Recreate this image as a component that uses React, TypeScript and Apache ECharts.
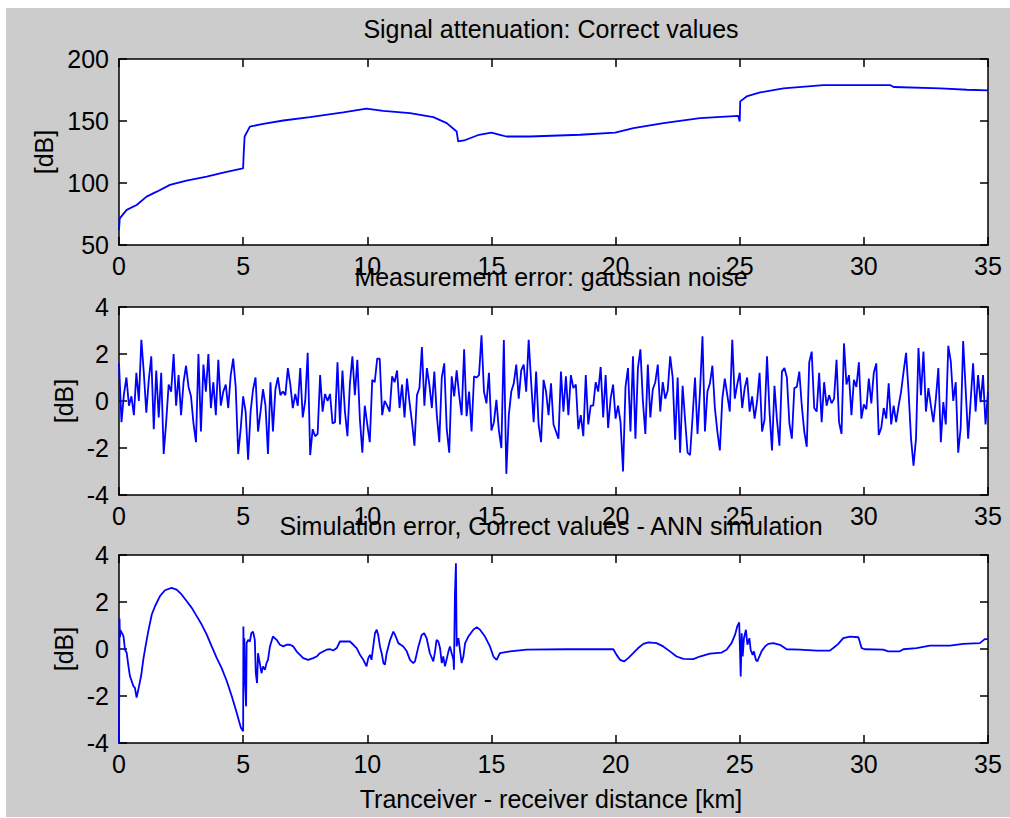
import React, { useEffect, useRef } from "react";
import * as echarts from "echarts";

// ---------- data ----------
const TITLES = [
  "Signal attenuation: Correct values",
  "Measurement error: gaussian noise",
  "Simulation error, Correct values - ANN simulation",
];
const Y_NAME = "[dB]";
const X_NAME = "Tranceiver - receiver distance [km]";

// Plot 1: signal attenuation (km, dB)
const attenKm = [
  0, 0.03, 0.31, 0.71, 1.11, 1.52, 2.05, 2.72, 3.53, 4.2, 4.94, 5.0, 5.02, 5.06, 5.27, 5.81, 6.62, 7.69,
  9.03, 9.97, 10.64, 11.72, 12.66, 13.2, 13.6, 13.66, 13.9, 14.5, 15.0, 15.34, 15.6, 16.56, 18.57, 19.98,
  20.72, 21.93, 23.4, 24.94, 25.0, 25.02, 25.28, 25.82, 26.76, 28.37, 31.05, 31.2, 33.08, 34.15, 35.0,
];
const attenDb = [
  62, 71.5, 78.3, 82.3, 89, 93, 98.5, 102, 105.2, 108.4, 111.5, 112, 122.7, 137.5, 145.5, 147.7, 150.4, 153.1,
  156.9, 160, 158.2, 156.4, 153.1, 148.3, 141.5, 133.5, 134.3, 138.9, 140.7, 138.9, 137.5, 137.5, 138.9, 140.7,
  144.3, 148.3, 152.3, 154.2, 149.6, 165.8, 169.8, 173, 176.3, 179, 179, 177.4, 176.3, 175.2, 174.7,
];

// Plot 2: measurement noise, one value every NOISE_STEP km from 0 to 35
const NOISE_STEP = 0.1;
const noiseDb = [
  1.6, -0.9, 0.3, 1.0, -0.2, 0.2, -0.6, 1.2, 0.0, 2.6,
  1.2, -0.5, 0.9, 1.9, -1.2, 1.3, -0.7, 1.2, -2.25, -0.9,
  0.7, 0.4, 2.0, -0.2, 1.1, -0.6, 0.8, 1.5, 0.6, 0.2,
  -0.95, -1.75, 2.0, -1.3, 1.55, 0.4, 2.0, -0.3, 0.8, -0.6,
  1.75, -0.2, 0.4, 0.7, -0.3, 1.1, 1.8, 0.6, -2.25, -1.2,
  0.2, -0.45, -2.5, -0.45, 0.5, 1.0, -1.3, -0.45, 0.5, -0.2,
  -2.25, 0.8, -1.3, 0.5, 1.0, 0.25, 0.4, 0.25, 1.4, 0.7,
  -0.3, 0.3, -0.2, 1.4, -0.7, 0.0, 2.05, -2.3, -1.2, -1.5,
  -1.4, 1.1, -0.45, 0.3, 0.0, 0.3, -0.95, -0.9, 1.65, -1.0,
  1.3, -0.45, -1.5, 0.75, 1.9, 0.25, 1.75, -0.75, -2.2, -0.2,
  -1.0, -1.75, 0.9, 0.8, 1.8, 1.8, -0.6, 0.0, -0.2, -0.45,
  1.05, 0.8, 1.3, -0.3, 0.7, -0.7, 0.95, -0.05, -0.9, -1.9,
  0.25, 0.55, 2.3, -0.2, 1.4, 0.7, -0.3, 1.25, -0.6, -1.75,
  1.0, 1.6, -1.2, -2.2, 1.05, 0.2, 1.3, 0.25, -0.6, 2.2,
  -0.65, 0.4, -1.3, 1.05, 1.0, 1.1, 2.8, 0.4, -0.1, 1.2,
  -1.25, -0.9, 0.05, -1.25, -2.0, 2.6, -3.1, -0.6, 0.4, 0.75,
  1.55, 0.1, 1.3, 1.55, 0.4, 2.6, 0.8, -0.9, 1.25, -1.0,
  -1.75, 0.9, 0.4, -0.6, 0.75, -1.0, -1.3, -1.6, 1.25, -0.45,
  1.05, -0.6, 1.1, 0.55, 0.7, -1.2, -0.6, -1.5, 1.1, -1.0,
  -0.2, -0.2, 0.8, 0.4, 1.45, -0.7, 1.1, -1.15, 0.1, 0.7,
  -0.75, -0.2, -0.9, -3.0, 0.6, 1.4, -1.3, 1.9, -1.6, 1.4,
  2.2, 0.0, -1.4, 1.55, -0.7, 0.5, 0.8, 1.55, -0.45, 0.8,
  0.1, 0.45, 1.9, 1.0, -1.65, 1.0, -2.2, 0.65, -0.8, -2.2,
  -2.3, -0.7, 1.0, -1.4, 0.4, 2.75, -1.3, 0.4, 0.75, 1.5,
  -0.3, -1.3, -2.1, 0.1, 0.95, 0.25, -0.45, 2.6, 0.1, 0.7,
  1.2, -0.3, 0.55, 1.0, -0.45, 0.2, -0.75, 0.0, 1.2, -1.3,
  -0.8, 1.9, -0.45, -2.1, 0.65, -0.8, -1.9, 1.25, 1.4, 1.0,
  -0.95, -1.6, 0.55, 0.6, 1.25, -0.2, -1.3, -1.95, 1.65, 2.1,
  -0.3, -0.45, 1.2, -0.9, 0.8, -0.2, 0.25, -0.1, 0.1, 1.75,
  -0.9, -1.4, 2.45, 0.7, 1.1, -0.6, 0.9, 0.6, 1.65, -0.75,
  -0.15, -0.35, 0.95, -0.1, 1.2, 1.6, -1.45, -1.15, -0.3, -0.75,
  0.75, -1.0, -0.2, -0.9, -0.2, 0.4, 1.25, 2.05, 0.4, -1.6,
  -2.75, -1.6, 2.25, 0.25, 2.1, -0.45, 0.55, -0.2, -0.9, 0.1,
  1.4, -1.75, -0.05, -1.0, 2.35, 1.7, 0.0, 0.8, -2.2, -1.15,
  2.55, 0.5, -1.6, 0.0, 1.6, -0.45, 1.1, -0.05, 1.1, -1.0, 0.4,
];

// Plot 3: simulation error (km, dB)
const simKm = [
  0, 0.02, 0.04, 0.06, 0.11, 0.18, 0.24, 0.31, 0.38, 0.44, 0.58, 0.64, 0.71, 0.78, 0.89, 0.98, 1.07, 1.18,
  1.32, 1.45, 1.65, 1.85, 2.12, 2.32, 2.52, 2.73, 2.93, 3.13, 3.33, 3.53, 3.73, 3.93, 4.13, 4.34, 4.54, 4.74,
  4.91, 5.0, 5.01, 5.03, 5.05, 5.07, 5.12, 5.14, 5.2, 5.27, 5.33, 5.4, 5.47, 5.51, 5.56, 5.6, 5.67, 5.74,
  5.8, 5.88, 5.94, 6.0, 6.08, 6.2, 6.35, 6.48, 6.62, 6.75, 6.89, 7.02, 7.15, 7.29, 7.42, 7.62, 7.82, 7.96,
  8.09, 8.36, 8.5, 8.63, 8.77, 8.9, 9.3, 9.44, 9.57, 9.71, 9.84, 9.97, 10.04, 10.11, 10.17, 10.24, 10.31,
  10.38, 10.44, 10.51, 10.58, 10.65, 10.71, 10.78, 10.92, 11.05, 11.12, 11.25, 11.45, 11.59, 11.72, 11.85,
  11.92, 12.06, 12.19, 12.29, 12.39, 12.52, 12.66, 12.73, 12.79, 12.86, 12.93, 13.0, 13.06, 13.13, 13.27,
  13.33, 13.4, 13.47, 13.49, 13.53, 13.57, 13.6, 13.67, 13.74, 13.8, 13.87, 13.94, 14.07, 14.27, 14.41,
  14.54, 14.74, 14.94, 15.08, 15.21, 15.34, 15.75, 16.42, 18.03, 19.91, 20.04, 20.18, 20.34, 20.51, 20.71,
  20.91, 21.12, 21.32, 21.65, 21.92, 22.19, 22.46, 22.73, 23.13, 23.39, 23.8, 24.27, 24.47, 24.67, 24.81,
  24.9, 24.98, 25.01, 25.04, 25.08, 25.12, 25.17, 25.25, 25.31, 25.39, 25.44, 25.52, 25.57, 25.65, 25.71,
  25.79, 25.88, 26.02, 26.15, 26.35, 26.62, 26.89, 27.42, 28.1, 28.63, 28.77, 28.97, 29.17, 29.44, 29.78,
  29.91, 30.04, 30.78, 30.98, 31.45, 31.59, 32.12, 32.66, 33.47, 34.0, 34.67, 34.87, 35.0,
];
const simDb = [
  -4, 1.3, 0.5, 0.8, 0.69, 0.55, -0.02, -0.16, -0.73, -1.15, -1.58, -1.65, -2.07, -1.72, -1.15, -0.44, 0.12, 0.76,
  1.47, 1.82, 2.25, 2.5, 2.6, 2.53, 2.32, 2.03, 1.75, 1.4, 1.04, 0.62, 0.12, -0.37, -0.8, -1.36, -2.0, -2.71,
  -3.35, -3.5, 0.96, -0.6, 0.46, -1.31, -2.44, 0.25, 0.39, 0.32, 0.67, 0.74, 0.39, -1.03, -1.45, -0.18, -0.6, -1.03,
  -0.74, -0.88, -0.6, -0.46, 0.11, 0.53, 0.39, 0.18, 0.11, 0.18, 0.18, 0.11, -0.1, -0.25, -0.39, -0.46, -0.39, -0.32,
  -0.18, -0.03, -0.01, -0.06, 0.04, 0.32, 0.32, 0.18, 0.04, -0.25, -0.46, -0.74, -0.39, -0.25, -0.46, 0.11, 0.67,
  0.82, 0.6, 0.11, -0.18, -0.6, -0.67, -0.18, 0.39, 0.74, 0.6, 0.25, 0.11, -0.1, -0.46, -0.6,
  -0.53, 0.11, 0.6, 0.67, 0.46, -0.18, -0.53, -0.1, 0.39, 0.32, 0.04, -0.6, -0.32, -0.74, -0.1,
  0.11, -0.18, -0.46, -0.88, 2.3, 3.65, 0.11, 0.46, -0.1, -0.6, -0.32, 0.25, 0.53, 0.82, 0.93,
  0.82, 0.53, 0.11, -0.32, -0.46, -0.18, -0.1, -0.03, -0.01, -0.01, -0.25, -0.46, -0.53, -0.39, -0.18,
  0.04, 0.22, 0.28, 0.25, 0.11, -0.1, -0.32, -0.42, -0.43, -0.32, -0.2, -0.15, -0.03, 0.25, 0.6,
  0.96, 1.13, -0.03, -1.17, 0.67, -0.32, 0.46, 0.82, 0.18, 0.46, -0.03, -0.25, -0.1, -0.46, -0.53,
  -0.32, -0.1, 0.11, 0.22, 0.25, 0.18, -0.01, -0.03, -0.07, -0.07, 0.04, 0.22, 0.46, 0.53, 0.5,
  0.04, -0.01, -0.03, -0.1, -0.1, -0.01, 0.04, 0.14, 0.14, 0.22, 0.25, 0.42, 0.42,
];

const X_MIN = 0;
const X_MAX = 35;
const X_INTERVAL = 5;
const Y_RANGES = [
  { min: 50, max: 200, interval: 50 },
  { min: -4, max: 4, interval: 2 },
  { min: -4, max: 4, interval: 2 },
];

// ---------- layout / style ----------
const FONT = '"Liberation Sans", Arial, Helvetica, sans-serif';
const FS = 25;
const LINE_BLUE = "#0000ff";
const GRIDS = [
  { left: 113, top: 51, width: 869, height: 186 },
  { left: 113, top: 299, width: 869, height: 188 },
  { left: 113, top: 547, width: 869, height: 188 },
];
const TITLE_Y = [20.5, 269, 518];
const CENTER_X = 545;

export default function App() {
  const ref = useRef<HTMLDivElement>(null);

  useEffect(() => {
    if (!ref.current) return;
    const chart = echarts.init(ref.current, null, { renderer: "svg" });

    const axisLine = { show: true, onZero: false, lineStyle: { color: "#000", width: 1.5 } };
    const axisTick = { show: true, inside: true, length: 8, lineStyle: { color: "#000", width: 1.5 } };
    const label = { color: "#000", fontSize: FS, fontFamily: FONT };

    const xAxis: any[] = [];
    const yAxis: any[] = [];
    GRIDS.forEach((_, g) => {
      const xBase = { type: "value", gridIndex: g, min: X_MIN, max: X_MAX, interval: X_INTERVAL, splitLine: { show: false }, axisLine, axisTick };
      xAxis.push({ ...xBase, position: "bottom", axisLabel: { ...label, margin: 8 } });
      xAxis.push({ ...xBase, position: "top", axisLabel: { show: false } });
      const r = Y_RANGES[g];
      const yBase = { type: "value", gridIndex: g, min: r.min, max: r.max, interval: r.interval, splitLine: { show: false }, axisLine, axisTick };
      yAxis.push({ ...yBase, position: "left", axisLabel: { ...label, margin: 10 } });
      yAxis.push({ ...yBase, position: "right", axisLabel: { show: false } });
    });

    const attenData = attenKm.map((x, i) => [x, attenDb[i]]);
    const noiseData = noiseDb.map((v, i) => [Math.round(i * NOISE_STEP * 100) / 100, v]);
    const simData = simKm.map((x, i) => [x, simDb[i]]);

    const lineSeries = (data: number[][], g: number) => ({
      type: "line",
      data,
      xAxisIndex: g * 2,
      yAxisIndex: g * 2,
      showSymbol: false,
      symbol: "none",
      lineStyle: { color: LINE_BLUE, width: 1.8 },
      clip: true,
    });

    const textStyle = (text: string) => ({
      text,
      fill: "#000",
      fontSize: FS,
      fontFamily: FONT,
      align: "center",
      verticalAlign: "middle",
    });

    const graphic: any[] = [];
    TITLES.forEach((t, i) => {
      graphic.push({ type: "text", x: CENTER_X, y: TITLE_Y[i], style: textStyle(t), z: 100 });
    });
    const yNamePos = [
      { x: 38, y: 144 },
      { x: 58, y: 393 },
      { x: 58, y: 641 },
    ];
    yNamePos.forEach((p) => {
      graphic.push({ type: "text", x: p.x, y: p.y, rotation: Math.PI / 2, style: textStyle(Y_NAME), z: 100 });
    });
    graphic.push({ type: "text", x: CENTER_X, y: 791, style: textStyle(X_NAME), z: 100 });

    chart.setOption({
      animation: false,
      backgroundColor: "#cccccc",
      grid: GRIDS.map((g) => ({ ...g, show: true, backgroundColor: "#ffffff", borderWidth: 0, containLabel: false })),
      xAxis,
      yAxis,
      series: [lineSeries(attenData, 0), lineSeries(noiseData, 1), lineSeries(simData, 2)],
      graphic,
    });

    return () => chart.dispose();
  }, []);

  return (
    <div
      ref={ref}
      style={{ position: "absolute", left: 6, top: 8, width: 1004, height: 809 }}
    />
  );
}
